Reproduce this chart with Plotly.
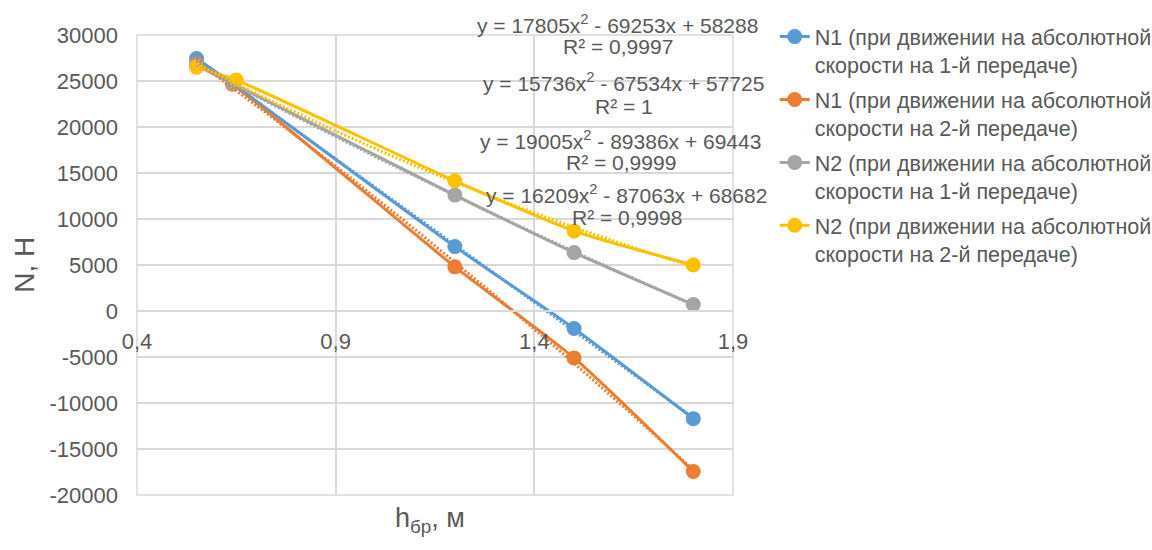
import numpy as np
import plotly.graph_objects as go

# Measured points: blade height h (m) vs normal force N (N)
series_names = [
    "N1 (при движении на абсолютной<br>скорости на 1-й передаче)",
    "N1 (при движении на абсолютной<br>скорости на 2-й передаче)",
    "N2 (при движении на абсолютной<br>скорости на 1-й передаче)",
    "N2 (при движении на абсолютной<br>скорости на 2-й передаче)",
]
x_n1_g1 = [0.55, 0.64, 1.2, 1.5, 1.8]
y_n1_g1 = [27440, 24720, 7000, -1900, -11700]
x_n1_g2 = [0.55, 0.64, 1.2, 1.5, 1.8]
y_n1_g2 = [26900, 24650, 4800, -5100, -17450]
x_n2_g1 = [0.55, 0.64, 1.2, 1.5, 1.8]
y_n2_g1 = [26700, 24750, 12600, 6350, 700]
x_n2_g2 = [0.55, 0.65, 1.2, 1.5, 1.8]
y_n2_g2 = [26500, 25100, 14150, 8700, 5000]

# Trendline labels (polynomial, 2nd order)
trend_equations = [
    "y = 17805x<sup>2</sup> - 69253x + 58288",
    "y = 15736x<sup>2</sup> - 67534x + 57725",
    "y = 19005x<sup>2</sup> - 89386x + 69443",
    "y = 16209x<sup>2</sup> - 87063x + 68682",
]
trend_r2 = ["R² = 0,9997", "R² = 1", "R² = 0,9999", "R² = 0,9998"]

x_ticks = [0.4, 0.9, 1.4, 1.9]
x_ticklabels = ["0,4", "0,9", "1,4", "1,9"]
y_ticks = [-20000, -15000, -10000, -5000, 0, 5000, 10000, 15000, 20000, 25000, 30000]
y_ticklabels = ["-20000", "-15000", "-10000", "-5000", "0", "5000",
                "10000", "15000", "20000", "25000", "30000"]

colors = ["#5B9BD5", "#ED7D31", "#A5A5A5", "#FFC000"]
FONT = "Liberation Sans, Arial, sans-serif"
TXT = "#595959"
GRID = "#D9D9D9"

xs = [x_n1_g1, x_n1_g2, x_n2_g1, x_n2_g2]
ys = [y_n1_g1, y_n1_g2, y_n2_g1, y_n2_g2]

fig = go.Figure()

for i, (x, y) in enumerate(zip(xs, ys)):
    fig.add_trace(go.Scatter(
        x=x, y=y, name=series_names[i], mode="lines+markers",
        line=dict(color=colors[i], width=3, shape="spline", smoothing=0.6),
        marker=dict(color=colors[i], size=15),
        legendgroup=f"g{i}",
    ))

# Dotted second-order polynomial trendlines fitted to each series
for i, (x, y) in enumerate(zip(xs, ys)):
    coef = np.polyfit(x, y, 2)
    xt = np.linspace(min(x), max(x), 120)
    fig.add_trace(go.Scatter(
        x=xt, y=np.polyval(coef, xt), mode="lines", showlegend=False,
        hoverinfo="skip",
        line=dict(color=colors[i], width=3, dash="2px,2px"),
    ))

# Equation / R² labels (x in data units, y in plot-area fractions)
eq_pos = [(1.61, 1.025, 0.974), (1.625, 0.897, 0.845),
          (1.617, 0.772, 0.722), (1.632, 0.654, 0.604)]
annotations = []
for (ax, y1, y2), eq, r2 in zip(eq_pos, trend_equations, trend_r2):
    annotations.append(dict(x=ax, y=y1, xref="x", yref="paper", text=eq,
                            showarrow=False, xanchor="center", yanchor="middle",
                            font=dict(family=FONT, size=21, color=TXT)))
    annotations.append(dict(x=ax, y=y2, xref="x", yref="paper", text=r2,
                            showarrow=False, xanchor="center", yanchor="middle",
                            font=dict(family=FONT, size=21, color=TXT)))

# Axis titles
annotations.append(dict(x=0.492, y=-0.054, xref="paper", yref="paper",
                        text="h<sub>бр</sub>, м", showarrow=False,
                        xanchor="center", yanchor="middle",
                        font=dict(family=FONT, size=27, color=TXT)))
annotations.append(dict(x=-0.19, y=0.5, xref="paper", yref="paper",
                        text="N, Н", showarrow=False, textangle=-90,
                        xanchor="center", yanchor="middle",
                        font=dict(family=FONT, size=28, color=TXT)))

fig.update_layout(
    width=1152, height=550,
    margin=dict(l=137, r=419, t=35, b=55, autoexpand=False),
    paper_bgcolor="white", plot_bgcolor="white",
    font=dict(family=FONT, size=21, color=TXT),
    showlegend=True,
    legend=dict(x=1.07, y=1.041, xanchor="left", yanchor="top",
                font=dict(family=FONT, size=21.5, color=TXT),
                traceorder="grouped", tracegroupgap=4, valign="top",
                itemwidth=30, bgcolor="rgba(0,0,0,0)"),
    annotations=annotations,
    shapes=[dict(type="rect", xref="paper", yref="paper", x0=0, y0=0, x1=1, y1=1,
                 line=dict(color=GRID, width=1.5), layer="below")],
)

fig.update_xaxes(range=[0.4, 1.9], tickvals=x_ticks, ticktext=x_ticklabels,
                 showgrid=True, gridcolor=GRID, gridwidth=1.5, zeroline=False,
                 showline=True, linecolor=GRID, linewidth=1.5,
                 anchor="free", position=0.4, ticks="", ticklabelstandoff=11,
                 tickfont=dict(family=FONT, size=22, color=TXT))
fig.update_yaxes(range=[-20000, 30000], tickvals=y_ticks, ticktext=y_ticklabels,
                 showgrid=True, gridcolor=GRID, gridwidth=1.5, zeroline=False,
                 showline=False, ticks="", ticklabelstandoff=18,
                 tickfont=dict(family=FONT, size=22, color=TXT))

fig.write_html("out.html")
